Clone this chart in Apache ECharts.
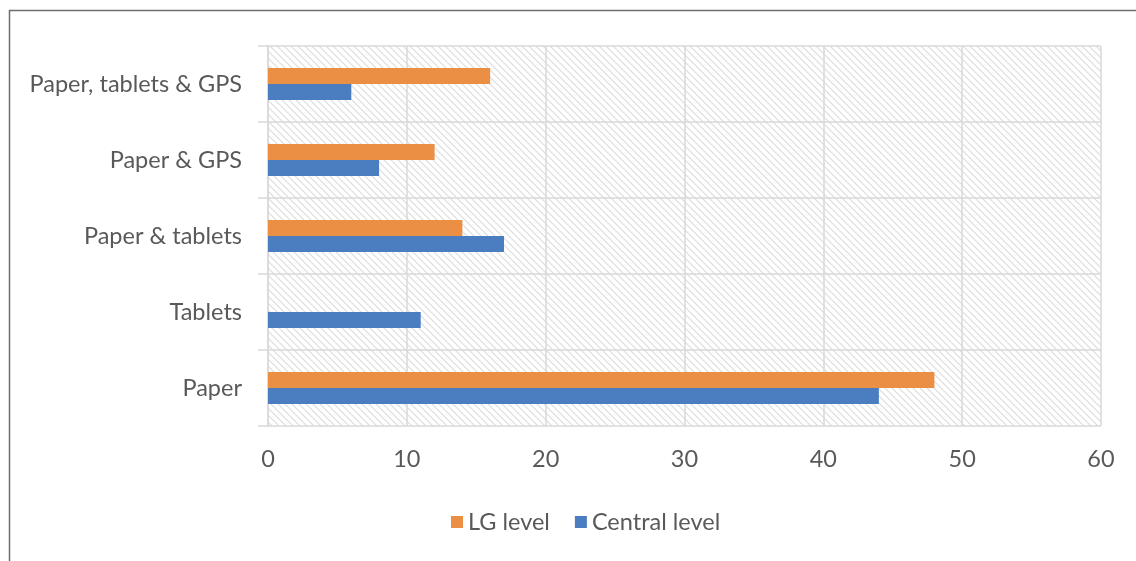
<!DOCTYPE html>
<html>
<head>
<meta charset="utf-8">
<script src="https://cdn.jsdelivr.net/npm/echarts@6/dist/echarts.min.js"></script>
<style>
  html, body { margin: 0; padding: 0; background: #ffffff; }
  #chart { width: 1136px; height: 561px; }
</style>
</head>
<body>
<div id="chart"></div>
<script>
// Data collection method by level (bottom to top)
const categories = ['Paper', 'Tablets', 'Paper & tablets', 'Paper & GPS', 'Paper, tablets & GPS'];
const lgLevel = [48, 0, 14, 12, 16];
const centralLevel = [44, 11, 17, 8, 6];
const xTicks = { min: 0, max: 60, interval: 10 };

// Diagonal hatch tile for the plot background
function hatchTile() {
  const n = 7;
  const c = document.createElement('canvas');
  c.width = n; c.height = n;
  const ctx = c.getContext('2d');
  ctx.fillStyle = '#ffffff';
  ctx.fillRect(0, 0, n, n);
  ctx.strokeStyle = '#dcdcdc';
  ctx.lineWidth = 1.2;
  ctx.beginPath();
  ctx.moveTo(-1, -1); ctx.lineTo(n + 1, n + 1);
  ctx.moveTo(-1, n - 1); ctx.lineTo(1, n + 1);
  ctx.moveTo(n - 1, -1); ctx.lineTo(n + 1, 1);
  ctx.stroke();
  return c;
}

const textColor = '#595959';
const gridColor = '#d9d9d9';
const font = 'Lato, "Liberation Sans", sans-serif';
const fontSize = 23.5;

const chart = echarts.init(document.getElementById('chart'), null, { renderer: 'canvas' });
chart.setOption({
  animation: false,
  backgroundColor: '#ffffff',
  textStyle: { fontFamily: font },
  graphic: [
    { type: 'line', shape: { x1: 9, y1: 10.5, x2: 1136, y2: 10.5 }, style: { stroke: '#6e6e6e', lineWidth: 1.5 } },
    { type: 'line', shape: { x1: 9.5, y1: 10, x2: 9.5, y2: 561 }, style: { stroke: '#6e6e6e', lineWidth: 1.5 } }
  ],
  grid: {
    left: 268, right: 35, top: 46, bottom: 135,
    show: true,
    borderWidth: 0,
    backgroundColor: { image: hatchTile(), repeat: 'repeat' }
  },
  legend: {
    data: ['LG level', 'Central level'],
    top: 505,
    left: 446,
    itemWidth: 12, itemHeight: 12,
    itemGap: 25,
    icon: 'rect',
    textStyle: { color: textColor, fontSize: fontSize, fontFamily: font }
  },
  xAxis: {
    type: 'value',
    min: xTicks.min, max: xTicks.max, interval: xTicks.interval,
    axisLine: { show: false },
    axisTick: { show: false },
    axisLabel: { color: textColor, fontSize: fontSize, margin: 21, fontFamily: font },
    splitLine: { show: true, lineStyle: { color: gridColor, width: 1.5 } }
  },
  yAxis: {
    type: 'category',
    data: categories,
    axisLine: { show: true, lineStyle: { color: gridColor, width: 1.5 } },
    axisTick: { show: true, length: 10, lineStyle: { color: gridColor, width: 1.5 } },
    axisLabel: { color: textColor, fontSize: fontSize, margin: 26, fontFamily: font },
    splitLine: { show: true, lineStyle: { color: gridColor, width: 1.5 } }
  },
  series: [
    {
      name: 'LG level', type: 'bar', data: lgLevel,
      barWidth: 16, barGap: '0%',
      itemStyle: { color: '#ea8f43' }
    },
    {
      name: 'Central level', type: 'bar', data: centralLevel,
      barWidth: 16, barGap: '0%',
      itemStyle: { color: '#4a7ec1' }
    }
  ]
});
</script>
</body>
</html>
